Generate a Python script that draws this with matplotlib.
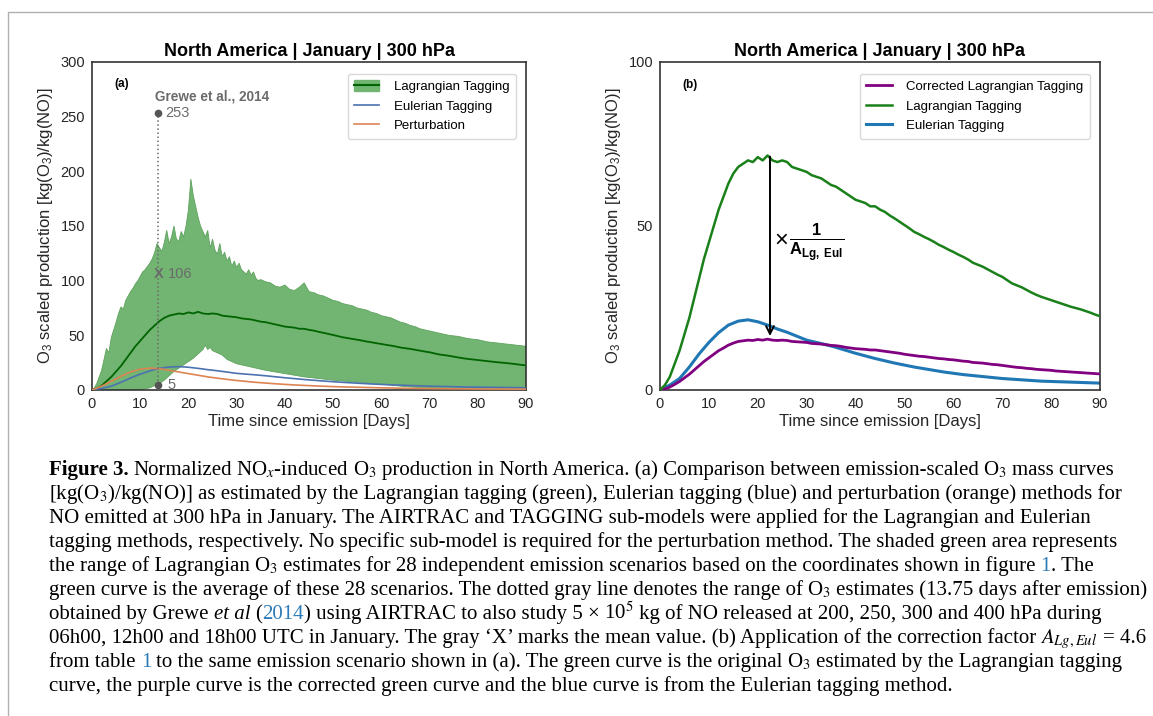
"""Recreate the North America O3 production figure (two panels + caption)."""

import numpy as np
import matplotlib
matplotlib.use('Agg')
import matplotlib.pyplot as plt
from matplotlib.lines import Line2D
from matplotlib.patches import Patch
from matplotlib.transforms import IdentityTransform

# ---------------------------------------------------------------- data
days = list(range(0, 91))

# Lagrangian tagging mean (average of 28 scenarios)
lag_mean = [0, 1.5, 4, 8, 12, 17, 22, 28, 34, 40,
            45, 50, 55, 59, 63, 66, 68, 69, 70, 69.5,
            71, 70, 71.5, 70, 69.5, 70, 69.5, 68, 67.5, 67,
            66.5, 65.5, 65, 64.5, 63.5, 62.5, 62, 61, 60, 59,
            58, 57.5, 57, 56, 56, 55, 54.3, 53.2, 52.3, 51.3,
            50.3, 49.3, 48.2, 47.5, 46.7, 46, 45.2, 44.3, 43.6, 42.8,
            42.1, 41.3, 40.6, 39.8, 38.8, 38.2, 37.6, 36.8, 36, 35.2,
            34.5, 33.5, 32.5, 31.9, 31.3, 30.5, 29.7, 29, 28.4, 27.9,
            27.4, 26.9, 26.4, 25.9, 25.4, 25, 24.6, 24.1, 23.6, 23,
            22.5]

# corrected Lagrangian tagging (purple, panel b)
lag_corrected = [0, 0.3, 0.9, 1.7, 2.6, 3.7, 4.8, 6.1, 7.4, 8.7,
                 9.8, 10.9, 12, 12.8, 13.7, 14.3, 14.8, 15, 15.2, 15.1,
                 15.4, 15.2, 15.5, 15.2, 15.1, 15.2, 15.1, 14.8, 14.7, 14.6,
                 14.5, 14.2, 14.1, 14, 13.8, 13.6, 13.5, 13.3, 13, 12.8,
                 12.6, 12.5, 12.4, 12.2, 12.2, 12, 11.8, 11.6, 11.4, 11.2,
                 10.9, 10.7, 10.5, 10.3, 10.2, 10, 9.8, 9.6, 9.5, 9.3,
                 9.2, 9, 8.8, 8.7, 8.4, 8.3, 8.2, 8, 7.8, 7.7,
                 7.5, 7.3, 7.1, 6.9, 6.8, 6.6, 6.5, 6.3, 6.2, 6.1,
                 6, 5.8, 5.7, 5.6, 5.5, 5.4, 5.3, 5.2, 5.1, 5,
                 4.9]

# upper edge of the 28-scenario range
upper_days = [0, 0.5, 1, 1.5, 2, 2.5, 3, 3.5, 4, 4.5,
              5, 5.5, 6, 6.5, 7, 7.5, 8, 8.5, 9, 9.5,
              10, 10.5, 11, 11.5, 12, 12.5, 13, 13.5, 14, 14.5,
              15, 15.5, 16, 16.5, 17, 17.5, 18, 18.5, 19, 19.5,
              20, 20.5, 21, 21.5, 22, 22.5, 23, 23.5, 24, 24.5,
              25, 25.5, 26, 26.5, 27, 27.5, 28, 28.5, 29, 29.5,
              30, 30.5, 31, 31.5, 32, 32.5, 33, 33.5, 34, 34.5,
              35, 36, 37, 38, 39, 40, 41, 42, 43, 44,
              45, 46, 47, 48, 49, 50, 51, 52, 53, 54,
              55, 56, 57, 58, 59, 60, 61, 62, 63, 64,
              65, 66, 67, 68, 69, 70, 72, 74, 76, 78,
              80, 82, 84, 86, 88, 90]
upper_vals = [0, 2, 6, 12, 18, 28, 38, 34, 48, 55,
              62, 70, 76, 74, 82, 86, 90, 93, 97, 100,
              104, 108, 110, 113, 116, 120, 126, 134, 130, 127,
              135, 146, 134, 140, 150, 138, 136, 145, 140, 150,
              165, 193, 178, 168, 158, 150, 145, 140, 146, 130,
              138, 128, 124, 134, 122, 126, 118, 122, 113, 118,
              112, 116, 110, 108, 106, 110, 105, 108, 102, 100,
              101, 99, 98, 95, 94, 96, 92, 91, 94, 98,
              90, 89, 87, 86, 84, 82, 81, 79, 78, 77,
              75, 74, 73, 71, 70, 68, 67, 66, 64, 62,
              61, 59, 58, 56, 55, 54, 52, 50, 49, 47,
              46, 44, 43, 42, 41, 40]

# lower edge of the 28-scenario range
lower_days = [0, 10, 11, 12, 13, 14, 15, 16, 17, 18,
              19, 20, 21, 22, 23, 23.5, 24, 24.5, 25, 26,
              27, 28, 29, 30, 32, 34, 36, 38, 40, 42,
              44, 46, 48, 50, 52, 54, 56, 58, 60, 62,
              64, 66, 68, 70, 75, 80, 90]
lower_vals = [0, 0, 1, 2, 4, 6, 9, 13, 17, 20,
              23, 26, 29, 33, 37, 41, 37, 39, 36, 34,
              32, 28, 26, 24, 22, 20, 18, 16.5, 15, 13.5,
              12, 11, 10, 9, 8.2, 7.5, 6.8, 6, 5.2, 4.5,
              3.5, 2.8, 2.2, 1.8, 1.3, 1.0, 0.8]

# Eulerian tagging
eul_days = list(range(0, 91, 2))
eul_vals = [0, 1.5, 3.5, 7, 11, 14.5, 17.5, 19.8, 21, 21.4,
            20.8, 19.8, 18.6, 17.6, 16.4, 15.2, 14.5, 13.8, 13, 12.1,
            11.2, 10.4, 9.6, 8.9, 8.2, 7.6, 7, 6.5, 6, 5.5,
            5.1, 4.7, 4.4, 4.1, 3.8, 3.5, 3.3, 3.1, 2.9, 2.7,
            2.6, 2.5, 2.4, 2.3, 2.2, 2.1]

# perturbation method
pert_days = [0, 2, 4, 6, 8, 10, 12, 14, 16, 18,
             20, 22, 24, 26, 28, 30, 34, 38, 42, 46,
             50, 55, 60, 65, 70, 75, 80, 85, 90]
pert_vals = [0, 3.5, 8, 12.5, 16.5, 19, 20, 19.5, 18, 16.5,
             15, 13.5, 12, 10.8, 9.7, 8.7, 7, 5.7, 4.6, 3.8,
             3.1, 2.5, 2, 1.6, 1.3, 1.1, 0.9, 0.8, 0.7]

# Grewe et al. (2014) range at 13.75 days
grewe_day = 13.75
grewe_min, grewe_mean, grewe_max = 5, 106, 253

TITLE = 'North America | January | 300 hPa'
YLABEL = r'O$_3$ scaled production [kg(O$_3$)/kg(NO)]'
XLABEL = 'Time since emission [Days]'

GRAY = '#6b6b6b'
LINK = '#2c7bb6'

plt.rcParams['font.family'] = ['Liberation Sans', 'DejaVu Sans']
plt.rcParams['mathtext.fontset'] = 'custom'
plt.rcParams['mathtext.rm'] = 'Liberation Sans'
plt.rcParams['mathtext.it'] = 'Liberation Sans:italic'
plt.rcParams['mathtext.bf'] = 'Liberation Sans:bold'


def style_axes(ax):
    for sp in ax.spines.values():
        sp.set_color('#333333')
        sp.set_linewidth(1.2)
    ax.tick_params(length=0, labelsize=10.5, colors='#262626', pad=5)
    ax.set_xlim(0, 90)
    ax.set_xticks(range(0, 91, 10))
    ax.set_xlabel(XLABEL, fontsize=12, color='#262626', labelpad=2)
    ax.set_ylabel(YLABEL, fontsize=12, color='#262626', labelpad=4)
    ax.set_title(TITLE, fontsize=13, fontweight='bold', pad=4)


def add_legend(ax, handles=None, labels=None):
    kw = dict(loc='upper right', fontsize=9.5, handlelength=1.9,
              handleheight=0.9, borderpad=0.5, labelspacing=0.5,
              handletextpad=1.1, bbox_to_anchor=(0.992, 0.985), fancybox=True)
    if handles is None:
        leg = ax.legend(**kw)
    else:
        leg = ax.legend(handles, labels, **kw)
    leg.get_frame().set_edgecolor('#d0d0d0')


def plot_panel_a(ax):
    fill_color = '#72b472'
    ax.fill(np.concatenate([upper_days, lower_days[::-1]]),
            np.concatenate([upper_vals, lower_vals[::-1]]),
            color=fill_color, lw=0.6, ec='#5fa35f', zorder=1)
    ax.plot(days, lag_mean, color='#006400', lw=1.3, zorder=3)
    ax.plot(eul_days, eul_vals, color='#4c72b0', lw=1.2, zorder=3)
    ax.plot(pert_days, pert_vals, color='#dd8452', lw=1.2, zorder=3)

    ax.plot([grewe_day, grewe_day], [grewe_min, grewe_max], ls=':',
            color=GRAY, lw=1.1, zorder=4)
    ax.plot([grewe_day, grewe_day], [grewe_min, grewe_max], 'o',
            color='#555555', ms=4.5, zorder=5)
    ax.text(grewe_day, grewe_mean, 'X', ha='center', va='center',
            fontsize=10.5, fontweight='bold', color=GRAY, zorder=5)
    for v, dx in [(grewe_max, 1.5), (grewe_mean, 2.0), (grewe_min, 2.0)]:
        ax.text(grewe_day + dx, v, str(v), va='center', fontsize=10.5,
                color=GRAY, zorder=5)
    ax.text(grewe_day - 0.6, 268, 'Grewe et al., 2014', va='center',
            fontsize=9.8, fontweight='bold', color=GRAY)
    ax.text(4.6, 280, '(a)', va='center', fontsize=8.5, fontweight='bold')

    ax.set_ylim(0, 300)
    ax.set_yticks(range(0, 301, 50))
    handles = [(Patch(color=fill_color), Line2D([], [], color='#006400', lw=1.5)),
               Line2D([], [], color='#4c72b0', lw=1.2),
               Line2D([], [], color='#dd8452', lw=1.2)]
    labels = ['Lagrangian Tagging', 'Eulerian Tagging', 'Perturbation']
    add_legend(ax, handles, labels)
    style_axes(ax)


def plot_panel_b(ax):
    ax.plot(days, lag_corrected, color='#800080', lw=2.0, zorder=3,
            label='Corrected Lagrangian Tagging')
    ax.plot(days, lag_mean, color='#1a801a', lw=1.8, zorder=3,
            label='Lagrangian Tagging')
    ax.plot(eul_days, eul_vals, color='#1f77b4', lw=2.2, zorder=2,
            label='Eulerian Tagging')
    ax.annotate('', xy=(22.5, 15.6), xytext=(22.5, 72),
                arrowprops=dict(arrowstyle='->', color='black', lw=1.4,
                                mutation_scale=14), zorder=4)
    ax.text(23.3, 46, r'$\times$', fontsize=17, va='center',
            fontweight='bold')
    ax.text(26.3, 45, r'$\frac{\mathbf{1}}{\mathbf{A}_{\mathbf{Lg,\ Eul}}}$',
            fontsize=17, va='center')
    ax.text(4.6, 93, '(b)', va='center', fontsize=8.5, fontweight='bold')
    ax.set_ylim(0, 100)
    ax.set_yticks([0, 50, 100])
    add_legend(ax)
    style_axes(ax)


# caption lines: list of (text, style, color, space_before)
CAPTION = [
    [('Figure 3.', 'bold', 'k', False),
     ('Normalized NO$_x$-induced O$_3$ production in North America. (a) '
      'Comparison between emission-scaled O$_3$ mass curves', 'normal', 'k', True)],
    [('[kg(O$_3$)/kg(NO)] as estimated by the Lagrangian tagging (green), '
      'Eulerian tagging (blue) and perturbation (orange) methods for', 'normal', 'k', False)],
    [('NO emitted at 300 hPa in January. The AIRTRAC and TAGGING sub-models '
      'were applied for the Lagrangian and Eulerian', 'normal', 'k', False)],
    [('tagging methods, respectively. No specific sub-model is required for '
      'the perturbation method. The shaded green area represents', 'normal', 'k', False)],
    [('the range of Lagrangian O$_3$ estimates for 28 independent emission '
      'scenarios based on the coordinates shown in figure', 'normal', 'k', False),
     ('1', 'normal', LINK, True),
     ('. The', 'normal', 'k', False)],
    [('green curve is the average of these 28 scenarios. The dotted gray line '
      'denotes the range of O$_3$ estimates (13.75 days after emission)', 'normal', 'k', False)],
    [('obtained by Grewe', 'normal', 'k', False),
     ('et al', 'italic', 'k', True),
     ('(', 'normal', 'k', True),
     ('2014', 'normal', LINK, False),
     (') using AIRTRAC to also study 5 \u00d7 10$^5$ kg of NO released at 200, '
      '250, 300 and 400 hPa during', 'normal', 'k', False)],
    [('06h00, 12h00 and 18h00 UTC in January. The gray \u2018X\u2019 marks the '
      'mean value. (b) Application of the correction factor '
      '$A_{Lg,Eul}$ = 4.6', 'normal', 'k', False)],
    [('from table', 'normal', 'k', False),
     ('1', 'normal', LINK, True),
     ('to the same emission scenario shown in (a). The green curve is the '
      'original O$_3$ estimated by the Lagrangian tagging', 'normal', 'k', True)],
    [('curve, the purple curve is the corrected green curve and the blue '
      'curve is from the Eulerian tagging method.', 'normal', 'k', False)],
]


def split_math(line):
    """Give every word holding $...$ its own text so its box stays small."""
    out = []
    for text, style, color, sp in line:
        plain = []
        pending = sp
        for word in text.split(' '):
            if '$' in word:
                if plain:
                    out.append((' '.join(plain), style, color, pending))
                    plain = []
                    pending = True
                out.append((word, style, color, pending))
                pending = True
            else:
                plain.append(word)
        if plain:
            out.append((' '.join(plain), style, color, pending))
    return out


def draw_caption(fig, x0, y0, step, size):
    renderer = fig.canvas.get_renderer()
    H = fig.bbox.height
    probe = fig.text(0, 0, 'n n', fontsize=size, family='Liberation Serif')
    w2 = probe.get_window_extent(renderer).width
    probe.set_text('nn')
    space = w2 - probe.get_window_extent(renderer).width
    probe.remove()
    for i, line in enumerate(CAPTION):
        x = x0
        y = H - (y0 + i * step)
        for text, style, color, sp in split_math(line):
            if sp:
                x += space
            if '$' in text and x > x0:
                # mathtext boxes start with a little blank padding
                x -= 1.3
            kw = dict(fontsize=size, family='Liberation Serif', color=color,
                      va='baseline', ha='left', transform=IdentityTransform(),
                      math_fontfamily='stix')
            if style == 'bold':
                kw['fontweight'] = 'bold'
            elif style == 'italic':
                kw['fontstyle'] = 'italic'
            t = fig.text(x, y, text, **kw)
            x += t.get_window_extent(renderer).width


def main():
    W, H = 1153, 716
    fig = plt.figure(figsize=(W / 100, H / 100), dpi=100)
    ax_a = fig.add_axes([92 / W, 1 - 390 / H, 434 / W, 328 / H])
    ax_b = fig.add_axes([660 / W, 1 - 390 / H, 440 / W, 328 / H])
    plot_panel_a(ax_a)
    plot_panel_b(ax_b)

    # thin page frame (top and left edges)
    fig.add_artist(Line2D([8, 8, W], [0, H - 12, H - 12], color='#b0b0b0',
                          lw=1.0, transform=IdentityTransform()))

    draw_caption(fig, 49, 475, 24.0, 15.0)
    fig.savefig('out.png', dpi=100)


if __name__ == '__main__':
    main()
